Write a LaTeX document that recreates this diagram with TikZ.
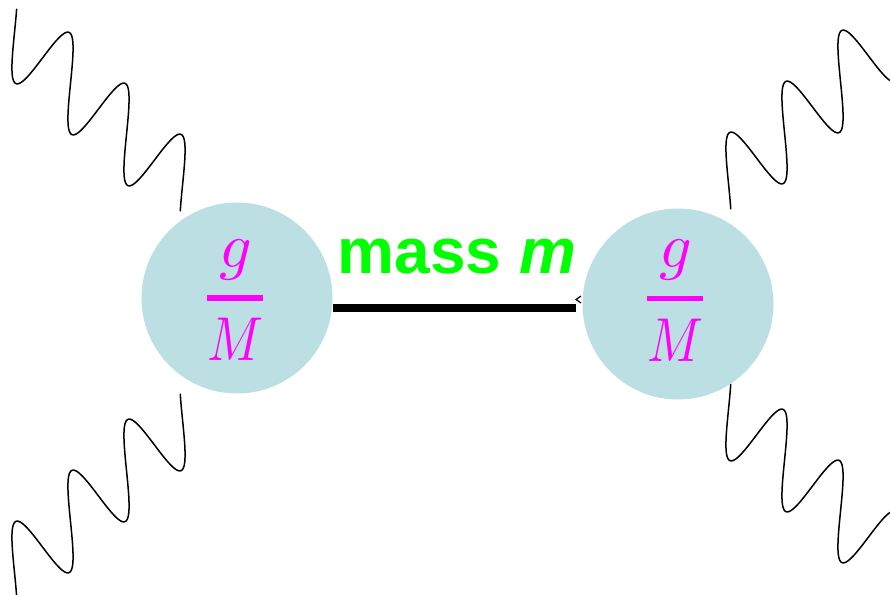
\documentclass[tikz,border=0pt]{standalone}
\usepackage{fontspec}
\newfontfamily\labelfont{Liberation Sans}
\usetikzlibrary{calc,backgrounds}
\definecolor{ballfill}{RGB}{188,223,227}
\definecolor{fracmag}{RGB}{255,0,255}
\definecolor{massgreen}{RGB}{0,255,0}
\begin{document}
\begin{tikzpicture}[x=1pt,y=-1pt,
  ball/.style={circle, fill=ballfill, minimum size=191pt, inner sep=0pt},
  wave/.style={line width=1.5pt, line join=round, line cap=round},
  fractext/.style={text=fracmag, inner sep=0pt, anchor=base},
  fracbar/.style={fill=fracmag},
  masslabel/.style={text=massgreen, inner sep=0pt, anchor=base,
    font=\labelfont\fontsize{64}{70}\selectfont\bfseries},
  link/.style={line width=8pt},
  tick/.style={line width=1.2pt}]
\useasboundingbox (0,0) rectangle (890,594);
\clip (0,0) rectangle (890,594);

% balls
\node[ball] (L) at (237,298) {};
\node[ball] (R) at (678,304) {};

% wavy lines (drawn behind the balls)
\newcommand{\wavepath}{plot[variable=\t, domain=-3.67:16.29, samples=260, smooth]
  ({-194.5+8.913*\t+13.5*sin(\t r)}, {-240+8.117*\t-37.75*sin(\t r)})}
\begin{scope}[on background layer]
  \begin{scope}[shift={(L.center)}]
    \draw[wave] \wavepath;
  \end{scope}
  \begin{scope}[shift={(L.center)}, shift={(0,9)}, yscale=-1]
    \draw[wave] \wavepath;
  \end{scope}
  \begin{scope}[shift={(R.center)}, shift={(-4,-8)}, xscale=-1]
    \draw[wave] \wavepath;
  \end{scope}
  \begin{scope}[shift={(R.center)}, shift={(-4,-7)}, xscale=-1, yscale=-1]
    \draw[wave] \wavepath;
  \end{scope}
\end{scope}

% propagator
\coordinate (la) at ($(L.center)+(96,10)$);
\coordinate (lb) at ($(R.center)+(-102,4)$);
\draw[link] (la) -- (lb);
\draw[tick] ($(lb)+(5,-12)$) -- ($(lb)+(0,-8.5)$) -- ($(lb)+(5,-5)$);

% label
\node[masslabel] (mass) at (457,273) {mass \textit{m}};

% fractions
\node[fractext] (gL) at (236,267) {\scalebox{6.4}{$g$}};
\fill[fracbar] (207,295) rectangle (263,301);
\node[fractext] (ML) at (236,360) {\scalebox{5.2}[6.2]{$M$}};

\node[fractext] (gR) at (676,267) {\scalebox{6.4}{$g$}};
\fill[fracbar] (647,296) rectangle (703,301);
\node[fractext] (MR) at (676,361) {\scalebox{5.2}[6.2]{$M$}};
\end{tikzpicture}
\end{document}
